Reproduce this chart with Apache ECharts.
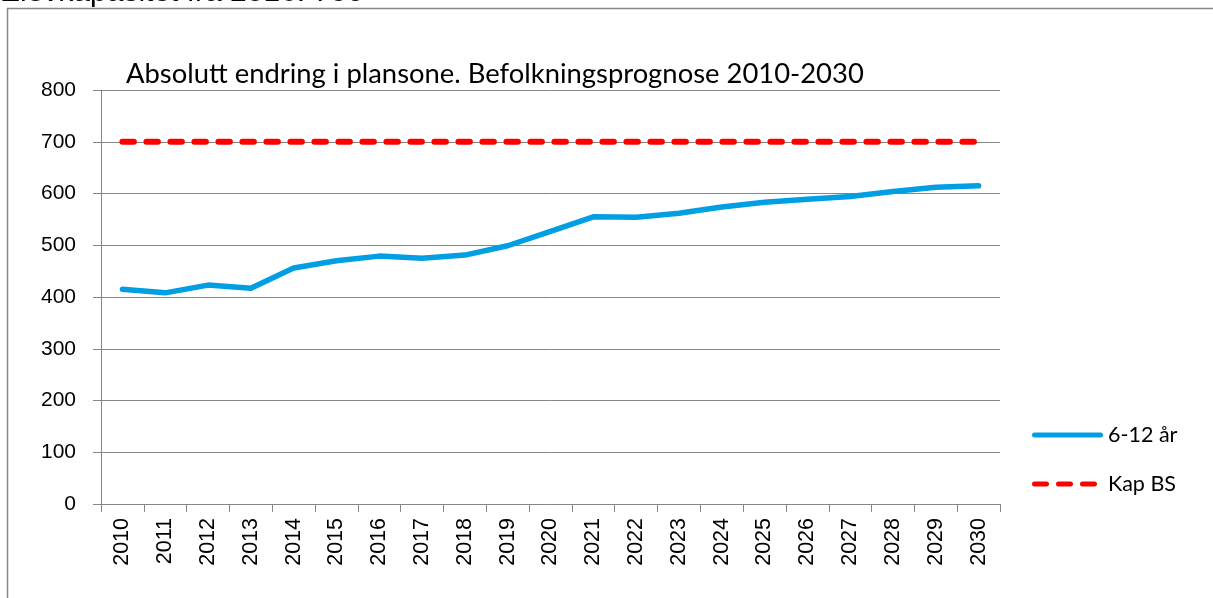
<!DOCTYPE html>
<html><head><meta charset="utf-8">
<script src="https://cdn.jsdelivr.net/npm/echarts@6/dist/echarts.min.js"></script>
<style>html,body{margin:0;padding:0;background:#fff}#c{width:1213px;height:598px}</style>
</head><body><div id="c"></div>
<script>
const years = ['2010','2011','2012','2013','2014','2015','2016','2017','2018','2019','2020','2021','2022','2023','2024','2025','2026','2027','2028','2029','2030'];
const pop612 = [415,408,423,417,456,470,479,475,481,499,527,555,554,562,574,583,589,594,604,612,615];
const kapBS = [700,700,700,700,700,700,700,700,700,700,700,700,700,700,700,700,700,700,700,700,700];
const yTicks = [0,100,200,300,400,500,600,700,800];

const chart = echarts.init(document.getElementById('c'));
chart.setOption({
  animation:false,
  title:{text:'Absolutt endring i plansone. Befolkningsprognose 2010-2030',left:121,top:56,
    textStyle:{fontFamily:'Lato',fontSize:27.4,fontWeight:'normal',color:'#000'}},
  graphic:[
    {type:'rect',shape:{x:7.5,y:8.5,width:1400,height:800},style:{fill:'none',stroke:'#888',lineWidth:1.5},silent:true},
    {type:'text',left:0,top:-22,style:{text:'Elevkapasitet fra 2016: 700',font:'30px "Liberation Sans"',fill:'#000'}}
  ],
  grid:{left:101,right:213,top:90,bottom:94},
  legend:{orient:'vertical',left:1027,top:419,itemWidth:71,itemHeight:14,itemGap:27,
    textStyle:{fontFamily:'Lato',fontSize:21.5,color:'#000'},
    data:[
      {name:'6-12 år',icon:'path://M2.5,0 L68.5,0 A2.5,2.5 0 0 1 68.5,5 L2.5,5 A2.5,2.5 0 0 1 2.5,0 Z'},
      {name:'Kap BS',icon:'path://M2.5,0 L14.5,0 A2.5,2.5 0 0 1 14.5,5 L2.5,5 A2.5,2.5 0 0 1 2.5,0 Z M26.5,0 L38.5,0 A2.5,2.5 0 0 1 38.5,5 L26.5,5 A2.5,2.5 0 0 1 26.5,0 Z M50.5,0 L62.5,0 A2.5,2.5 0 0 1 62.5,5 L50.5,5 A2.5,2.5 0 0 1 50.5,0 Z M71,0 L71,5 Z'}
    ]},
  xAxis:{type:'category',data:years,boundaryGap:true,
    axisLine:{lineStyle:{color:'#868686',width:1}},
    axisTick:{show:true,length:8,lineStyle:{color:'#868686'},alignWithLabel:false},
    axisLabel:{rotate:90,fontFamily:'Liberation Sans',fontSize:21.5,color:'#000',margin:14,interval:0}},
  yAxis:{type:'value',min:0,max:800,interval:100,
    axisLine:{show:true,lineStyle:{color:'#868686',width:1}},
    axisTick:{show:true,length:8,lineStyle:{color:'#868686'}},
    splitLine:{lineStyle:{color:'#868686',width:1}},
    axisLabel:{fontFamily:'Liberation Sans',fontSize:21,color:'#000',margin:25,
      formatter:v=>yTicks.includes(v)?String(v):''}},
  series:[
    {name:'6-12 år',type:'line',data:pop612,symbol:'none',smooth:false,
      lineStyle:{color:'#009FE3',width:5.5,cap:'round',join:'round'},itemStyle:{color:'#009FE3'}},
    {name:'Kap BS',type:'line',data:kapBS,symbol:'none',
      lineStyle:{color:'#FF0000',width:6,type:[11.5,12.5],cap:'round'},itemStyle:{color:'#FF0000'}}
  ]
});
</script></body></html>
